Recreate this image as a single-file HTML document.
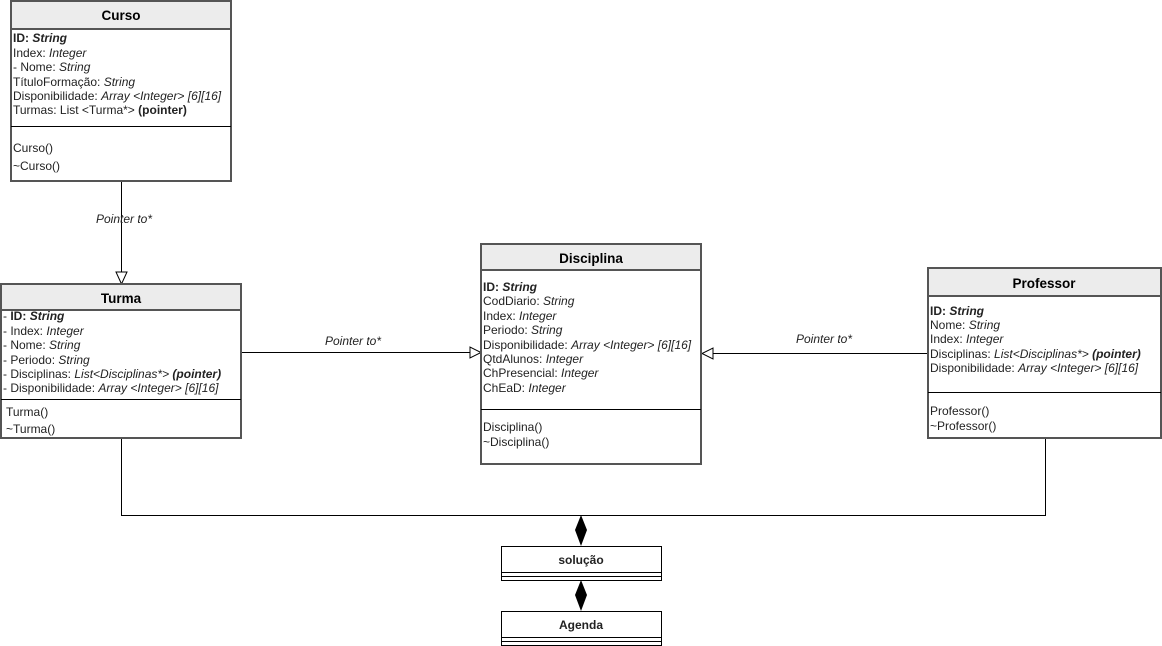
<!DOCTYPE html>
<html><head><meta charset="utf-8"><style>
body{margin:0;background:#fff}
svg{display:block;font-family:"Liberation Sans",Arial,sans-serif}
text{font-size:12px;fill:#222}
.h{font-size:13.5px;font-weight:bold;fill:#000}
.i{font-style:italic}
.b{font-weight:bold}
.box{fill:#fff;stroke:#555;stroke-width:2}
.hd{fill:#ececec;stroke:#555;stroke-width:2}
.ln{stroke:#000;stroke-width:1;fill:none}
</style></head><body>
<svg width="1162" height="646" viewBox="0 0 1162 646">
<path class="ln" d="M121.5 181V272"/>
<polygon points="116,272 127,272 121.5,284" fill="#fff" stroke="#000"/>
<text x="124" y="223" text-anchor="middle" class="i" fill="#333">Pointer to*</text>
<path class="ln" d="M241 352.5H470"/>
<polygon points="470,347 470,358 481,352.5" fill="#fff" stroke="#000"/>
<text x="353" y="345" text-anchor="middle" class="i">Pointer to*</text>
<path class="ln" d="M928 353.5H713"/>
<polygon points="713,348 713,359 702,353.5" fill="#fff" stroke="#000"/>
<text x="824" y="343" text-anchor="middle" class="i">Pointer to*</text>
<path class="ln" d="M121.5 438V515.5H1045.5V438"/>
<polygon points="581,515 587,530 581,546 575,530" fill="#000"/>
<polygon points="581,580 587,595 581,611 575,595" fill="#000"/>

<rect class="box" x="11" y="1" width="220" height="180"/>
<rect class="hd" x="11" y="1" width="220" height="28"/>
<text x="121" y="20" text-anchor="middle" class="h">Curso</text>
<text x="13" y="42"><tspan class="b">ID: </tspan><tspan class="b i">String</tspan></text>
<text x="13" y="57">Index: <tspan class="i">Integer</tspan></text>
<text x="13" y="71">- Nome: <tspan class="i">String</tspan></text>
<text x="13" y="86">TítuloFormação: <tspan class="i">String</tspan></text>
<text x="13" y="100">Disponibilidade: <tspan class="i">Array &lt;Integer&gt; [6][16]</tspan></text>
<text x="13" y="114">Turmas: List &lt;Turma*&gt; <tspan class="b">(pointer)</tspan></text>
<path class="ln" d="M11 126.5H231"/>
<text x="13" y="152">Curso()</text>
<text x="13" y="170">~Curso()</text>

<rect class="box" x="1" y="284" width="240" height="154"/>
<rect class="hd" x="1" y="284" width="240" height="26"/>
<text x="121" y="303" text-anchor="middle" class="h">Turma</text>
<text x="3" y="320">- <tspan class="b">ID: </tspan><tspan class="b i">String</tspan></text>
<text x="3" y="335">- Index: <tspan class="i">Integer</tspan></text>
<text x="3" y="349">- Nome: <tspan class="i">String</tspan></text>
<text x="3" y="364">- Periodo: <tspan class="i">String</tspan></text>
<text x="3" y="378">- Disciplinas: <tspan class="i">List&lt;Disciplinas*&gt;</tspan> <tspan class="b i">(pointer)</tspan></text>
<text x="3" y="392">- Disponibilidade: <tspan class="i">Array &lt;Integer&gt; [6][16]</tspan></text>
<path class="ln" d="M1 399.5H241"/>
<text x="6" y="416">Turma()</text>
<text x="6" y="433">~Turma()</text>

<rect class="box" x="481" y="244" width="220" height="220"/>
<rect class="hd" x="481" y="244" width="220" height="26"/>
<text x="591" y="263" text-anchor="middle" class="h">Disciplina</text>
<text x="483" y="291"><tspan class="b">ID: </tspan><tspan class="b i">String</tspan></text>
<text x="483" y="305">CodDiario: <tspan class="i">String</tspan></text>
<text x="483" y="320">Index: <tspan class="i">Integer</tspan></text>
<text x="483" y="334">Periodo: <tspan class="i">String</tspan></text>
<text x="483" y="349">Disponibilidade: <tspan class="i">Array &lt;Integer&gt; [6][16]</tspan></text>
<text x="483" y="363">QtdAlunos: <tspan class="i">Integer</tspan></text>
<text x="483" y="377">ChPresencial: <tspan class="i">Integer</tspan></text>
<text x="483" y="392">ChEaD: <tspan class="i">Integer</tspan></text>
<path class="ln" d="M481 409.5H701"/>
<text x="483" y="431">Disciplina()</text>
<text x="483" y="446">~Disciplina()</text>

<rect class="box" x="928" y="268" width="233" height="170"/>
<rect class="hd" x="928" y="268" width="233" height="28"/>
<text x="1044" y="288" text-anchor="middle" class="h">Professor</text>
<text x="930" y="315"><tspan class="b">ID: </tspan><tspan class="b i">String</tspan></text>
<text x="930" y="329">Nome: <tspan class="i">String</tspan></text>
<text x="930" y="343">Index: <tspan class="i">Integer</tspan></text>
<text x="930" y="358">Disciplinas: <tspan class="i">List&lt;Disciplinas*&gt;</tspan> <tspan class="b i">(pointer)</tspan></text>
<text x="930" y="372">Disponibilidade: <tspan class="i">Array &lt;Integer&gt; [6][16]</tspan></text>
<path class="ln" d="M928 392.5H1161"/>
<text x="930" y="415">Professor()</text>
<text x="930" y="430">~Professor()</text>

<rect x="501.5" y="546.5" width="160" height="34" fill="#fff" stroke="#000"/>
<path class="ln" d="M501 572.5H661M501 576.5H661"/>
<text x="581" y="564" text-anchor="middle" class="b">solução</text>
<rect x="501.5" y="611.5" width="160" height="34" fill="#fff" stroke="#000"/>
<path class="ln" d="M501 637.5H661M501 641.5H661"/>
<text x="581" y="629" text-anchor="middle" class="b">Agenda</text>
</svg>
</body></html>
